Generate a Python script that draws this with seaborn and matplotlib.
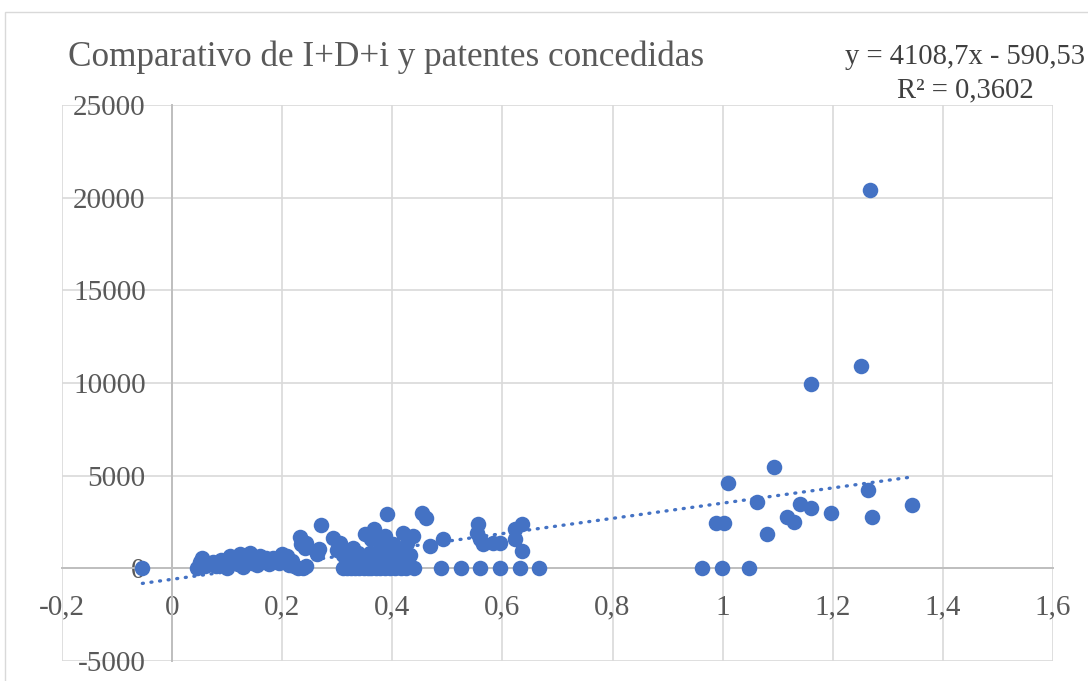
import numpy as np
import pandas as pd
import matplotlib
matplotlib.use("Agg")
import matplotlib.pyplot as plt
import seaborn as sns
from matplotlib.patches import Rectangle

# ---- data ----
idi = [
    -0.054,
    0.045, 0.050, 0.054, 0.060, 0.074, 0.080, 0.088, 0.093, 0.100, 0.105,
    0.108, 0.115, 0.120, 0.123, 0.128, 0.132, 0.138, 0.142, 0.146, 0.150,
    0.155, 0.160, 0.165, 0.170, 0.176, 0.184, 0.190, 0.195, 0.199, 0.204,
    0.208, 0.212, 0.218, 0.222, 0.228, 0.238, 0.244,
    0.232, 0.235, 0.241, 0.244, 0.266, 0.263, 0.270, 0.292, 0.300, 0.305,
    0.310, 0.314, 0.320, 0.329, 0.335, 0.338, 0.345, 0.350, 0.355, 0.359,
    0.362, 0.365, 0.367, 0.371, 0.375, 0.377, 0.385, 0.387, 0.390, 0.391,
    0.395, 0.402, 0.405, 0.410, 0.414, 0.418, 0.420, 0.426, 0.432, 0.438,
    0.453, 0.461, 0.468, 0.492,
    0.310, 0.318, 0.325, 0.332, 0.340, 0.348, 0.355, 0.362, 0.370, 0.378,
    0.386, 0.395, 0.405, 0.415, 0.425, 0.440,
    0.489, 0.524, 0.559, 0.595, 0.632, 0.667,
    0.553, 0.556, 0.559, 0.565, 0.583, 0.595, 0.622, 0.622, 0.635, 0.635,
    0.963, 0.999, 1.048,
    0.987, 1.002, 1.010, 1.062, 1.081, 1.094, 1.116, 1.129, 1.140, 1.160,
    1.196, 1.264, 1.272, 1.344,
    1.160, 1.252, 1.267,
]
patentes = [
    40,
    40, 350, 575, 150, 320, 100, 450, 200, 30, 660,
    400, 560, 250, 755, 80, 500, 620, 845, 300, 520,
    180, 660, 420, 560, 250, 575, 400, 300, 755, 560,
    660, 200, 380, 100, 30, 0, 100,
    1700, 1290, 1110, 1380, 1020, 755, 2315, 1650, 1000, 1380,
    700, 847, 500, 1110, 300, 847, 600, 1830, 400, 847,
    1560, 250, 2140, 700, 500, 1380, 350, 1740, 700, 2945,
    900, 1290, 600, 1000, 700, 400, 1920, 1380, 700, 1740,
    2960, 2730, 1200, 1560,
    0, 0, 0, 0, 0, 0, 0, 0, 0, 0,
    0, 0, 0, 0, 0, 0,
    0, 0, 0, 0, 0, 0,
    1920, 2370, 1560, 1290, 1380, 1380, 2100, 1560, 2370, 930,
    0, 0, 0,
    2460, 2460, 4630, 3590, 1850, 5450, 2785, 2515, 3485, 3270,
    2980, 4220, 2765, 3430,
    9970, 10940, 20420,
]

titulo = "Comparativo de I+D+i y patentes concedidas"
pendiente = 4108.7
intercepto = -590.53
ecuacion = "y = 4108,7x - 590,53\nR² = 0,3602"
x_ticks = [-0.2, 0, 0.2, 0.4, 0.6, 0.8, 1.0, 1.2, 1.4, 1.6]
x_labels = ["-0,2", "0", "0,2", "0,4", "0,6", "0,8", "1", "1,2", "1,4", "1,6"]
y_ticks = [-5000, 0, 5000, 10000, 15000, 20000, 25000]
y_labels = ["-5000", "0", "5000", "10000", "15000", "20000", "25000"]

df = pd.DataFrame({"idi": idi, "patentes": patentes})

# ---- style ----
sns.set_theme(style="white")
plt.rcParams["font.family"] = ["Liberation Serif", "DejaVu Serif"]

W, H = 1088, 681
fig = plt.figure(figsize=(W / 100, H / 100), dpi=100)
fig.patch.set_facecolor("white")

# chart area border (partially visible)
fig.add_artist(Rectangle((5 / W, -0.1), 1.2, 1 - 12 / H + 0.1,
                         transform=fig.transFigure, fill=False,
                         edgecolor="#d9d9d9", lw=1.0))

left, right, top, bottom = 62, 1053, 105, 661
ax = fig.add_axes([left / W, 1 - bottom / H, (right - left) / W, (bottom - top) / H])
ax.set_facecolor("white")

blue = "#4472C4"
sns.scatterplot(data=df, x="idi", y="patentes", ax=ax, color=blue,
                s=125, linewidth=0, zorder=3, legend=False)

# linear trend line (Excel style, dotted)
xs = np.array([df["idi"].min(), df["idi"].max()])
ax.plot(xs, pendiente * xs + intercepto, color=blue, lw=2.4,
        linestyle=(0, (0.3, 2.3)), dash_capstyle="round", zorder=4)

ax.set_xlim(-0.2, 1.6)
ax.set_ylim(-5000, 25000)
ax.set_xticks(x_ticks)
ax.set_xticklabels(x_labels)
ax.set_yticks(y_ticks)
ax.set_yticklabels(y_labels)
ax.set_xlabel("")
ax.set_ylabel("")

ax.grid(True, color="#d9d9d9", lw=1.2, zorder=0)
for gl in ax.get_xgridlines() + ax.get_ygridlines():
    gl.set_clip_on(False)

for side in ["top", "right"]:
    ax.spines[side].set_visible(False)
ax.spines["left"].set_position(("data", 0))
ax.spines["bottom"].set_position(("data", 0))
for side in ["left", "bottom"]:
    ax.spines[side].set_color("#bfbfbf")
    ax.spines[side].set_linewidth(1.4)
    ax.spines[side].set_zorder(1)

ax.tick_params(axis="x", length=0, pad=19, labelsize=21, labelcolor="#595959")
ax.tick_params(axis="y", length=0, pad=19, labelsize=21, labelcolor="#595959")

fig.text(68 / W, 1 - 57 / H, titulo, fontsize=25.3, color="#595959",
         ha="left", va="center")
fig.text(965 / W, 1 - 74 / H, ecuacion, fontsize=20.6, color="#404040",
         ha="center", va="center", linespacing=1.35)

fig.savefig("out.png", dpi=100, facecolor="white")
